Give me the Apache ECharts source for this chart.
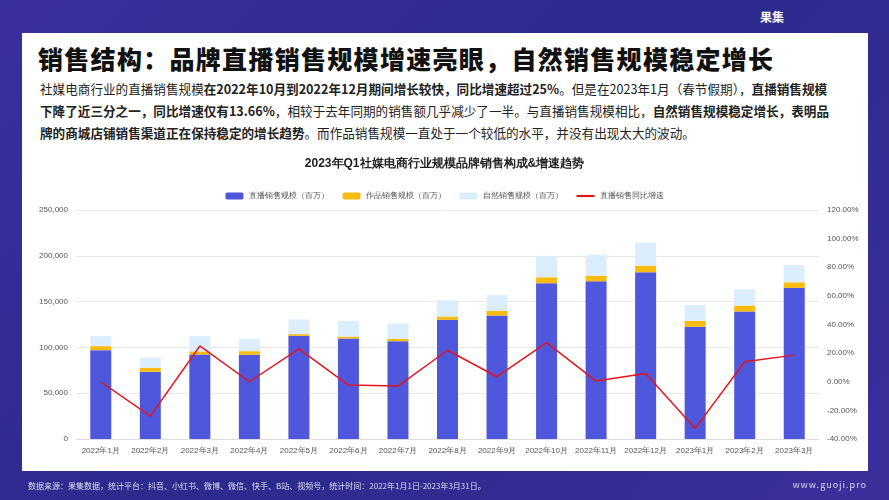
<!DOCTYPE html>
<html><head><meta charset="utf-8">
<script src="https://cdn.jsdelivr.net/npm/echarts@6/dist/echarts.min.js"></script>
<style>
body{margin:0;width:889px;height:500px;overflow:hidden;font-family:"Noto Sans CJK SC","Noto Sans",sans-serif;
background:linear-gradient(135deg,#3a2f9e 0%,#2c2a8c 50%,#3b2f9c 100%);position:relative}
#card{position:absolute;left:22px;top:33px;width:846px;height:438px;background:#fff}
#main{position:absolute;left:0;top:0;width:889px;height:500px}
.t{position:absolute;left:38px;top:40px;font-size:25px;font-weight:900;color:#111;letter-spacing:1.3px}
.p{position:absolute;left:40px;top:78px;width:830px;font-size:12.6px;line-height:22px;color:#222;white-space:nowrap}
.p b{font-weight:700}
.f{position:absolute;left:28px;top:480px;font-size:8px;color:#dde}
.w{position:absolute;right:22px;top:478px;font-size:9px;color:#dde;letter-spacing:1px}
.logo{position:absolute;left:760px;top:8px;font-size:12px;font-weight:700;color:#fff}
</style></head><body>
<div id="card"></div>
<div class="logo">果集</div>
<div class="t">销售结构：品牌直播销售规模增速亮眼，自然销售规模稳定增长</div>
<div class="p">社媒电商行业的直播销售规模<b>在2022年10月到2022年12月期间增长较快，同比增速超过25%</b>。但是在2023年1月（春节假期），<b>直播销售规模</b><br><b>下降了近三分之一，同比增速仅有13.66%</b>，相较于去年同期的销售额几乎减少了一半。与直播销售规模相比，<b>自然销售规模稳定增长，表明品</b><br><b>牌的商城店铺销售渠道正在保持稳定的增长趋势</b>。而作品销售规模一直处于一个较低的水平，并没有出现太大的波动。</div>
<div id="main"></div>
<div class="f">数据来源：果集数据，统计平台：抖音、小红书、微博、微信、快手、B站、视频号，统计时间：2022年1月1日-2023年3月31日。</div>
<div class="w">www.guoji.pro</div>
<script>
var months = ['2022年1月','2022年2月','2022年3月','2022年4月','2022年5月','2022年6月','2022年7月','2022年8月','2022年9月','2022年10月','2022年11月','2022年12月','2023年1月','2023年2月','2023年3月'];
var liveSales = [97000,73400,92300,91900,112600,109700,106800,130100,134800,170100,172200,182000,122500,139200,165000];
var worksSales = [4400,4400,3300,4000,1900,2200,2600,3600,5100,6500,6200,7300,6500,6500,6100];
var naturalSales = [10900,10900,16700,13100,15900,17100,16700,17800,17100,23300,22900,25100,17100,17800,18900];
var liveYoY = [0,-24,25,0,23,-2.3,-3,22,3.5,27.4,0.5,5.8,-32.6,14,18.6];

var chart = echarts.init(document.getElementById('main'));
chart.setOption({
  title: {text: '2023年Q1社媒电商行业规模品牌销售构成&增速趋势', left: 'center', top: 153,
    textStyle: {fontSize: 12, fontWeight: 'bold', color: '#222'}},
  legend: {top: 187, itemWidth: 18, itemHeight: 7, textStyle: {fontSize: 8, color: '#555'}, itemGap: 14,
    data: ['直播销售规模（百万）','作品销售规模（百万）','自然销售规模（百万）',
      {name: '直播销售同比增速', icon: 'path://M0,0L10,0L10,1.2L0,1.2Z'}]},
  grid: {left: 76, right: 70, top: 210, bottom: 61},
  xAxis: {type: 'category', data: months, axisTick: {show: false},
    axisLine: {lineStyle: {color: '#ddd'}}, axisLabel: {fontSize: 8, color: '#555', interval: 0}},
  yAxis: [
    {type: 'value', min: 0, max: 250000, interval: 50000,
      axisLabel: {fontSize: 8, color: '#555', formatter: function (v) { return v.toLocaleString('en-US'); }},
      splitLine: {lineStyle: {color: '#e8e8e8'}}},
    {type: 'value', min: -40, max: 120, interval: 20, splitLine: {show: false},
      axisLabel: {fontSize: 8, color: '#555', formatter: function (v) { return v.toFixed(2) + '%'; }}}
  ],
  series: [
    {name: '直播销售规模（百万）', type: 'bar', stack: 's', barWidth: 21, data: liveSales, itemStyle: {color: '#4f57dc'}},
    {name: '作品销售规模（百万）', type: 'bar', stack: 's', data: worksSales, itemStyle: {color: '#f9bb0f'}},
    {name: '自然销售规模（百万）', type: 'bar', stack: 's', data: naturalSales, itemStyle: {color: '#dcedfb'}},
    {name: '直播销售同比增速', type: 'line', yAxisIndex: 1, data: liveYoY, symbol: 'none',
      lineStyle: {color: '#e3161d', width: 1.5}, itemStyle: {color: '#e3161d'}}
  ]
});
</script>
</body></html>
